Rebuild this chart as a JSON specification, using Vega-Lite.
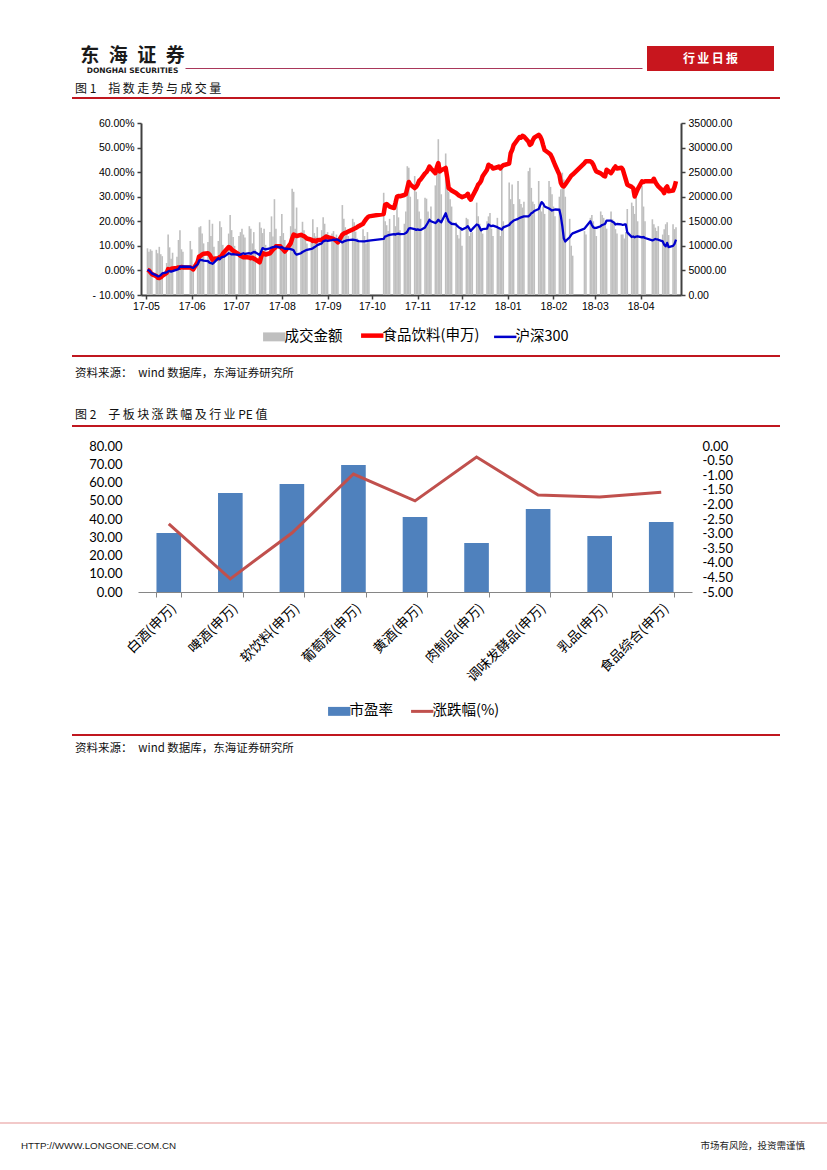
{
"$schema":"https://vega.github.io/schema/vega-lite/v6.json",
"padding":0,
"background":"#ffffff",
"spacing":0,
"resolve":{"scale":{"color":"independent"},"legend":{"color":"independent"}},
"config":{"concat":{"spacing":0},"view":{"stroke":null},"title":{"fontWeight":"normal","color":"#111111","font":"Noto Sans CJK SC"}},
"datasets":{
"one":[{}],
"sub":[{"c":"白酒(申万)","pe":32.3,"chg":-2.67},{"c":"啤酒(申万)","pe":54.2,"chg":-4.55},{"c":"软饮料(申万)","pe":59.2,"chg":-2.98},{"c":"葡萄酒(申万)","pe":69.6,"chg":-0.96},{"c":"黄酒(申万)","pe":41.1,"chg":-1.88},{"c":"肉制品(申万)","pe":26.8,"chg":-0.38},{"c":"调味发酵品(申万)","pe":45.5,"chg":-1.68},{"c":"乳品(申万)","pe":30.7,"chg":-1.75},{"c":"食品综合(申万)","pe":38.4,"chg":-1.58}],
"idx":[
{"d":"2017-05-02","v":9500,"f":0.3,"h":0.3},{"d":"2017-05-03","v":8800,"f":0,"h":0},{"d":"2017-05-04","v":9300,"f":-0.8,"h":-0.5},{"d":"2017-05-05","v":9000,"f":-1.5,"h":-1.2},
{"d":"2017-05-08","v":9200,"f":-2.3,"h":-2},{"d":"2017-05-09","v":8500,"f":-3,"h":-2.4},{"d":"2017-05-10","v":9800,"f":-3.1,"h":-2.3},{"d":"2017-05-11","v":8300,"f":-2.8,"h":-1.9},{"d":"2017-05-12","v":7900,"f":-2.2,"h":-1.2},
{"d":"2017-05-15","v":6500,"f":-1,"h":-0.8},{"d":"2017-05-16","v":12300,"f":0.5,"h":-0.4},{"d":"2017-05-17","v":9700,"f":0.2,"h":-0.2},{"d":"2017-05-18","v":7400,"f":0.6,"h":-0.5},{"d":"2017-05-19","v":8600,"f":0.8,"h":-0.3},
{"d":"2017-05-22","v":7800,"f":1,"h":0.3},{"d":"2017-05-23","v":11200,"f":1.2,"h":0.5},{"d":"2017-05-24","v":13200,"f":1.1,"h":1.6},{"d":"2017-05-25","v":9300,"f":1.4,"h":1.5},{"d":"2017-05-26","v":8800,"f":1.2,"h":1.6},
{"d":"2017-05-31","v":11000,"f":1.2,"h":1.5},{"d":"2017-06-01","v":9300,"f":0.8,"h":1.2},{"d":"2017-06-02","v":6200,"f":0.4,"h":1},
{"d":"2017-06-05","v":8000,"f":3.5,"h":2.5},{"d":"2017-06-06","v":13800,"f":5.7,"h":4},{"d":"2017-06-07","v":14000,"f":6,"h":4.3},{"d":"2017-06-08","v":12500,"f":6.5,"h":4.2},{"d":"2017-06-09","v":10500,"f":6.8,"h":4},
{"d":"2017-06-12","v":10800,"f":7,"h":3.8},{"d":"2017-06-13","v":15300,"f":6.5,"h":3.2},{"d":"2017-06-14","v":12000,"f":5.5,"h":3},{"d":"2017-06-15","v":14500,"f":4.3,"h":2.7},{"d":"2017-06-16","v":9800,"f":4.8,"h":3.2},
{"d":"2017-06-19","v":11000,"f":5,"h":5},{"d":"2017-06-20","v":15000,"f":5.5,"h":4.5},{"d":"2017-06-21","v":13800,"f":5.7,"h":5.3},{"d":"2017-06-22","v":10200,"f":6.8,"h":5.5},{"d":"2017-06-23","v":8500,"f":7.5,"h":5.6},
{"d":"2017-06-26","v":12500,"f":9.5,"h":7},{"d":"2017-06-27","v":16300,"f":9.2,"h":6.8},{"d":"2017-06-28","v":13200,"f":8.5,"h":6.5},{"d":"2017-06-29","v":11800,"f":8,"h":6.6},{"d":"2017-06-30","v":10000,"f":7.7,"h":6.5},
{"d":"2017-07-03","v":12000,"f":6.5,"h":6.3},{"d":"2017-07-04","v":12800,"f":6,"h":6.4},{"d":"2017-07-05","v":13500,"f":5.7,"h":6.8},{"d":"2017-07-06","v":12300,"f":5.4,"h":7},{"d":"2017-07-07","v":11700,"f":5.5,"h":6.7},
{"d":"2017-07-10","v":14000,"f":5.3,"h":7},{"d":"2017-07-11","v":13500,"f":5,"h":6.8},{"d":"2017-07-12","v":10500,"f":5.2,"h":7.2},{"d":"2017-07-13","v":12800,"f":4.8,"h":7.5},{"d":"2017-07-14","v":9300,"f":4.5,"h":7.4},
{"d":"2017-07-17","v":14800,"f":3.3,"h":6.3},{"d":"2017-07-18","v":13700,"f":5.5,"h":7.7},{"d":"2017-07-19","v":12600,"f":7,"h":9.1},{"d":"2017-07-20","v":13500,"f":6.8,"h":8.8},{"d":"2017-07-21","v":10200,"f":6.5,"h":8.6},
{"d":"2017-07-24","v":12800,"f":7,"h":9},{"d":"2017-07-25","v":16000,"f":7.7,"h":9.3},{"d":"2017-07-26","v":11900,"f":8.5,"h":9.5},{"d":"2017-07-27","v":19500,"f":9,"h":9.6},{"d":"2017-07-28","v":13500,"f":9.8,"h":9.8},
{"d":"2017-07-31","v":12000,"f":9.8,"h":9.3},{"d":"2017-08-01","v":16500,"f":9,"h":9.5},{"d":"2017-08-02","v":12600,"f":8.5,"h":9.1},{"d":"2017-08-03","v":11200,"f":7.7,"h":8.8},{"d":"2017-08-04","v":9800,"f":8.5,"h":8.9},
{"d":"2017-08-07","v":14000,"f":11,"h":8.7},{"d":"2017-08-08","v":21600,"f":13,"h":8.5},{"d":"2017-08-09","v":21000,"f":14.6,"h":8.2},{"d":"2017-08-10","v":13500,"f":14.3,"h":7},{"d":"2017-08-11","v":17800,"f":14,"h":6.4},
{"d":"2017-08-14","v":12300,"f":14.5,"h":7},{"d":"2017-08-15","v":14900,"f":14.2,"h":7.5},{"d":"2017-08-16","v":13200,"f":14,"h":7.8},{"d":"2017-08-17","v":11800,"f":13.5,"h":8.1},{"d":"2017-08-18","v":10500,"f":13,"h":8.4},
{"d":"2017-08-21","v":11500,"f":12.5,"h":8.8},{"d":"2017-08-22","v":15400,"f":12,"h":9},{"d":"2017-08-23","v":12600,"f":12.2,"h":9.4},{"d":"2017-08-24","v":11900,"f":11.8,"h":9.8},{"d":"2017-08-25","v":13800,"f":12.3,"h":10.3},
{"d":"2017-08-28","v":13200,"f":12.5,"h":11},{"d":"2017-08-29","v":15800,"f":13,"h":11.8},{"d":"2017-08-30","v":14500,"f":13.3,"h":12},{"d":"2017-08-31","v":12400,"f":13.8,"h":12.2},{"d":"2017-09-01","v":12800,"f":13.5,"h":12},
{"d":"2017-09-04","v":12500,"f":13,"h":12.3},{"d":"2017-09-05","v":13000,"f":12.8,"h":12.5},{"d":"2017-09-06","v":11500,"f":12.5,"h":12.4},{"d":"2017-09-07","v":12300,"f":12,"h":12.6},{"d":"2017-09-08","v":10800,"f":11.4,"h":12.5},
{"d":"2017-09-11","v":18300,"f":14.6,"h":11.4},{"d":"2017-09-12","v":15500,"f":15,"h":11.8},{"d":"2017-09-13","v":13800,"f":15.3,"h":12},{"d":"2017-09-14","v":13200,"f":15.5,"h":12.2},{"d":"2017-09-15","v":12000,"f":15.8,"h":12.3},
{"d":"2017-09-18","v":15500,"f":16.7,"h":12.5},{"d":"2017-09-19","v":14800,"f":17,"h":12.4},{"d":"2017-09-20","v":12900,"f":17.3,"h":12.3},{"d":"2017-09-21","v":11500,"f":17.6,"h":12.1},{"d":"2017-09-22","v":10800,"f":18,"h":11.9},
{"d":"2017-09-25","v":13400,"f":19,"h":11.8},{"d":"2017-09-26","v":12000,"f":20,"h":11.8},{"d":"2017-09-27","v":10500,"f":20.8,"h":11.9},{"d":"2017-09-28","v":12800,"f":21.5,"h":12},{"d":"2017-09-29","v":11000,"f":22,"h":12.1},
{"d":"2017-10-09","v":20800,"f":23,"h":12.8},{"d":"2017-10-10","v":15000,"f":26.8,"h":13.9},{"d":"2017-10-11","v":14200,"f":27,"h":14},{"d":"2017-10-12","v":13000,"f":26.5,"h":14.3},{"d":"2017-10-13","v":15500,"f":26,"h":14.5},
{"d":"2017-10-16","v":16300,"f":25.4,"h":14.8},{"d":"2017-10-17","v":14000,"f":27.5,"h":14.6},{"d":"2017-10-18","v":20500,"f":30,"h":14.9},{"d":"2017-10-19","v":15800,"f":30.3,"h":15},{"d":"2017-10-20","v":13200,"f":30.2,"h":14.8},
{"d":"2017-10-23","v":14500,"f":30.7,"h":14.9},{"d":"2017-10-24","v":17000,"f":31,"h":15.2},{"d":"2017-10-25","v":26200,"f":33.5,"h":15.8},{"d":"2017-10-26","v":25900,"f":36,"h":17},{"d":"2017-10-27","v":20000,"f":35,"h":17.2},
{"d":"2017-10-30","v":24200,"f":33.5,"h":16.8},{"d":"2017-10-31","v":21000,"f":34,"h":16.5},{"d":"2017-11-01","v":19500,"f":35,"h":16.7},{"d":"2017-11-02","v":17000,"f":36.5,"h":16.5},{"d":"2017-11-03","v":15500,"f":37,"h":16.5},
{"d":"2017-11-06","v":19800,"f":39.5,"h":17.5},{"d":"2017-11-07","v":19600,"f":40,"h":18.5},{"d":"2017-11-08","v":17000,"f":41,"h":19.5},{"d":"2017-11-09","v":15500,"f":42.3,"h":20.6},{"d":"2017-11-10","v":18000,"f":41.5,"h":20},
{"d":"2017-11-13","v":22300,"f":39.6,"h":19.3},{"d":"2017-11-14","v":25300,"f":42,"h":19.8},{"d":"2017-11-15","v":31700,"f":43.7,"h":20.6},{"d":"2017-11-16","v":27000,"f":40.3,"h":20},{"d":"2017-11-17","v":20500,"f":40.8,"h":19.6},
{"d":"2017-11-20","v":28800,"f":41.7,"h":23.3},{"d":"2017-11-21","v":23000,"f":38,"h":21.5},{"d":"2017-11-22","v":21000,"f":33.5,"h":20},{"d":"2017-11-23","v":19500,"f":33,"h":19.5},{"d":"2017-11-24","v":18000,"f":32.5,"h":19},
{"d":"2017-11-27","v":14800,"f":31.5,"h":18.7},{"d":"2017-11-28","v":12200,"f":31,"h":18},{"d":"2017-11-29","v":11500,"f":30.5,"h":17.5},{"d":"2017-11-30","v":13500,"f":30.2,"h":17.2},{"d":"2017-12-01","v":10000,"f":29.8,"h":16.6},
{"d":"2017-12-04","v":15700,"f":30.5,"h":17.5},{"d":"2017-12-05","v":15400,"f":31.2,"h":18},{"d":"2017-12-06","v":12000,"f":29.5,"h":17},{"d":"2017-12-07","v":12600,"f":28.8,"h":16},{"d":"2017-12-08","v":12800,"f":30,"h":16.8},
{"d":"2017-12-11","v":18800,"f":33.5,"h":18.7},{"d":"2017-12-12","v":16000,"f":34.9,"h":18.5},{"d":"2017-12-13","v":14500,"f":35.5,"h":17.5},{"d":"2017-12-14","v":13500,"f":36.5,"h":16.3},{"d":"2017-12-15","v":12500,"f":38.3,"h":16.8},
{"d":"2017-12-18","v":15000,"f":41,"h":17},{"d":"2017-12-19","v":16000,"f":43,"h":18.7},{"d":"2017-12-20","v":16700,"f":42.5,"h":18.3},{"d":"2017-12-21","v":13500,"f":42.3,"h":18},{"d":"2017-12-22","v":12000,"f":41.5,"h":18.2},
{"d":"2017-12-25","v":15700,"f":42,"h":17.6},{"d":"2017-12-26","v":13500,"f":42.3,"h":17.2},{"d":"2017-12-27","v":12000,"f":41.5,"h":17},{"d":"2017-12-28","v":25900,"f":42.3,"h":16.6},{"d":"2017-12-29","v":15000,"f":42.8,"h":17.5},
{"d":"2018-01-02","v":22900,"f":43.5,"h":18.5},{"d":"2018-01-03","v":19500,"f":47.7,"h":19.3},{"d":"2018-01-04","v":22500,"f":49,"h":19.8},{"d":"2018-01-05","v":18500,"f":51,"h":20.3},
{"d":"2018-01-08","v":23200,"f":53.5,"h":21},{"d":"2018-01-09","v":19500,"f":54.3,"h":21.3},{"d":"2018-01-10","v":18500,"f":54,"h":21.6},{"d":"2018-01-11","v":17800,"f":54.8,"h":21.8},{"d":"2018-01-12","v":19000,"f":54.5,"h":22},
{"d":"2018-01-15","v":25200,"f":52.5,"h":22},{"d":"2018-01-16","v":25900,"f":51.1,"h":22.5},{"d":"2018-01-17","v":21800,"f":51.5,"h":23.3},{"d":"2018-01-18","v":19000,"f":53,"h":23.6},{"d":"2018-01-19","v":18500,"f":54,"h":24.2},
{"d":"2018-01-22","v":23200,"f":55.2,"h":25},{"d":"2018-01-23","v":19000,"f":54.5,"h":26.5},{"d":"2018-01-24","v":17000,"f":53.2,"h":27.8},{"d":"2018-01-25","v":18000,"f":51,"h":27.2},{"d":"2018-01-26","v":16500,"f":49,"h":26},
{"d":"2018-01-29","v":23200,"f":47.7,"h":25.2},{"d":"2018-01-30","v":22000,"f":47.2,"h":24.8},{"d":"2018-01-31","v":20500,"f":46,"h":24.4},{"d":"2018-02-01","v":18000,"f":44.5,"h":24.6},{"d":"2018-02-02","v":16000,"f":43,"h":24.8},
{"d":"2018-02-05","v":20000,"f":39,"h":24.7},{"d":"2018-02-06","v":21500,"f":35.6,"h":22},{"d":"2018-02-07","v":24900,"f":34.5,"h":18},{"d":"2018-02-08","v":23500,"f":34.2,"h":13},{"d":"2018-02-09","v":20000,"f":35,"h":11.8},
{"d":"2018-02-12","v":15500,"f":37.6,"h":13.5},{"d":"2018-02-13","v":10000,"f":38.5,"h":14.5},{"d":"2018-02-14","v":8000,"f":39,"h":15.1},
{"d":"2018-02-22","v":13000,"f":43.7,"h":17},{"d":"2018-02-23","v":12300,"f":44.4,"h":17.8},
{"d":"2018-02-26","v":15700,"f":44.4,"h":20},{"d":"2018-02-27","v":16300,"f":44,"h":18.5},{"d":"2018-02-28","v":15000,"f":43,"h":17.5},{"d":"2018-03-01","v":13700,"f":41.5,"h":17.3},{"d":"2018-03-02","v":12000,"f":40.3,"h":17.3},
{"d":"2018-03-05","v":17000,"f":39.5,"h":18},{"d":"2018-03-06","v":16300,"f":39,"h":18.5},{"d":"2018-03-07","v":15700,"f":38.5,"h":18.7},{"d":"2018-03-08","v":14500,"f":38.3,"h":19},{"d":"2018-03-09","v":13500,"f":41,"h":20.3},
{"d":"2018-03-12","v":17000,"f":39.6,"h":20.3},{"d":"2018-03-13","v":15400,"f":40.5,"h":19.8},{"d":"2018-03-14","v":14800,"f":41.5,"h":19.5},{"d":"2018-03-15","v":13400,"f":42.3,"h":18.7},{"d":"2018-03-16","v":12500,"f":41.5,"h":18.9},
{"d":"2018-03-19","v":12300,"f":41.8,"h":18.7},{"d":"2018-03-20","v":12300,"f":41,"h":18.5},{"d":"2018-03-21","v":11500,"f":39,"h":18.7},{"d":"2018-03-22","v":12800,"f":37,"h":18.7},{"d":"2018-03-23","v":17500,"f":34.9,"h":15.5},
{"d":"2018-03-26","v":18800,"f":34,"h":13.6},{"d":"2018-03-27","v":18100,"f":33.5,"h":13.8},{"d":"2018-03-28","v":16500,"f":30.1,"h":13.5},{"d":"2018-03-29","v":20500,"f":31.5,"h":13.8},{"d":"2018-03-30","v":15000,"f":33,"h":13.9},
{"d":"2018-04-02","v":22200,"f":36.3,"h":13.5},{"d":"2018-04-03","v":18000,"f":36,"h":13.6},{"d":"2018-04-04","v":15000,"f":36.3,"h":13.2},
{"d":"2018-04-09","v":15400,"f":36.3,"h":12.2},{"d":"2018-04-10","v":14400,"f":37.3,"h":12.5},{"d":"2018-04-11","v":13700,"f":36,"h":12.8},{"d":"2018-04-12","v":13000,"f":35,"h":12.6},{"d":"2018-04-13","v":14000,"f":34.2,"h":12.5},
{"d":"2018-04-16","v":12300,"f":32.5,"h":11.8},{"d":"2018-04-17","v":13400,"f":31.5,"h":10.5},{"d":"2018-04-18","v":14400,"f":33.5,"h":9.8},{"d":"2018-04-19","v":14800,"f":34.2,"h":11.2},{"d":"2018-04-20","v":12200,"f":32.2,"h":9.5},
{"d":"2018-04-23","v":14400,"f":32.5,"h":10},{"d":"2018-04-24","v":13400,"f":34,"h":10.8},{"d":"2018-04-25","v":13800,"f":36.3,"h":12.5}
]},
"vconcat":[
{"data":{"name":"one"},"mark":{"type":"point","opacity":0,"size":0},"width":827,"height":46,"view":{"fill":"transparent","stroke":null}},
{"spacing":0,"hconcat":[
 {"data":{"name":"one"},"mark":{"type":"point","opacity":0,"size":0},"width":80,"height":1,"view":{"fill":"transparent","stroke":null}},
 {"spacing":0,"vconcat":[
  {"data":{"name":"one"},"mark":{"type":"text","font":"Noto Sans CJK SC","fontSize":19,"fontWeight":"bold","color":"#1a1a1a"},"width":103,"height":20,"view":{"fill":"transparent","stroke":null},
   "encoding":{"text":{"value":"东\u2002海\u2002证\u2002券"}}},
  {"data":{"name":"one"},"mark":{"type":"text","font":"DejaVu Sans","fontSize":7.5,"fontWeight":"bold","color":"#1a1a1a"},"width":103,"height":7,"view":{"fill":"transparent","stroke":null},
   "encoding":{"text":{"value":"DONGHAI SECURITIES"}}}
 ]},
 {"data":{"name":"one"},"mark":{"type":"point","opacity":0,"size":0},"width":457,"height":22,"view":{"fill":"transparent","stroke":null},
  "encoding":{"x":{"datum":0,"type":"quantitative","axis":{"labels":false,"ticks":false,"title":null,"grid":false,"domainColor":"#A9375A","domainWidth":1}}}},
 {"data":{"name":"one"},"mark":{"type":"point","opacity":0,"size":0},"width":5,"height":1,"view":{"fill":"transparent","stroke":null}},
 {"data":{"name":"one"},"mark":{"type":"text","color":"#ffffff","font":"Noto Sans CJK SC","fontSize":12,"fontWeight":"bold"},"width":127,"height":25,"view":{"fill":"#C8161E","stroke":null},
  "encoding":{"text":{"value":"行\u2009业\u2009日\u2009报"}}}
]},
{"data":{"name":"one"},"mark":{"type":"point","opacity":0,"size":0},"width":1,"height":9,"view":{"fill":"transparent","stroke":null}},
{"spacing":0,"hconcat":[
 {"data":{"name":"one"},"mark":{"type":"point","opacity":0,"size":0},"width":72,"height":1,"view":{"fill":"transparent","stroke":null}},
 {"data":{"name":"one"},"mark":{"type":"point","opacity":0,"size":0},"width":708,"height":2,"view":{"fill":"#C0171F","stroke":null},
  "title":{"text":"图 1\u3000指\u2009数\u2009走\u2009势\u2009与\u2009成\u2009交\u2009量","anchor":"start","fontSize":12,"offset":1,"dx":3}}
]},
{"data":{"name":"one"},"mark":{"type":"point","opacity":0,"size":0},"width":1,"height":19,"view":{"fill":"transparent","stroke":null}},
{"spacing":0,"resolve":{"scale":{"color":"independent"},"legend":{"color":"independent"}},"hconcat":[
 {"data":{"name":"one"},"mark":{"type":"point","opacity":0,"size":0},"width":91,"height":1,"view":{"fill":"transparent","stroke":null}},
 {"width":540,"height":172,"data":{"name":"idx"},
  "layer":[
   {"mark":{"type":"bar","width":1.6},
    "encoding":{
     "x":{"field":"d","type":"temporal","scale":{"type":"utc","domain":[{"year":2017,"month":5,"date":1,"utc":true},{"year":2018,"month":4,"date":25,"utc":true}]},
      "axis":{"title":null,"grid":false,"format":"%y-%m","labelOverlap":false,"labelFlush":false,"labelFont":"Liberation Sans","labelFontSize":10.5,"labelColor":"#000000","labelPadding":2,"domainColor":"#404040","domainWidth":2,"tickColor":"#404040","tickWidth":1.5,"tickSize":4,
       "values":[{"year":2017,"month":5,"date":1,"utc":true},{"year":2017,"month":6,"date":1,"utc":true},{"year":2017,"month":7,"date":1,"utc":true},{"year":2017,"month":8,"date":1,"utc":true},{"year":2017,"month":9,"date":1,"utc":true},{"year":2017,"month":10,"date":1,"utc":true},{"year":2017,"month":11,"date":1,"utc":true},{"year":2017,"month":12,"date":1,"utc":true},{"year":2018,"month":1,"date":1,"utc":true},{"year":2018,"month":2,"date":1,"utc":true},{"year":2018,"month":3,"date":1,"utc":true},{"year":2018,"month":4,"date":1,"utc":true}]}},
     "y":{"field":"v","type":"quantitative","scale":{"domain":[0,35000],"nice":false},
      "axis":{"orient":"right","title":null,"grid":false,"values":[0,5000,10000,15000,20000,25000,30000,35000],"format":".2f","labelFont":"Liberation Sans","labelFontSize":10.5,"labelColor":"#000000","labelPadding":3,"domainColor":"#404040","domainWidth":2,"tickColor":"#404040","tickWidth":1.5,"tickSize":4}},
     "color":{"datum":"成交金额","type":"nominal","scale":{"domain":["成交金额","食品饮料(申万)","沪深300"],"range":["#BFBFBF","#FF0000","#0000CC"]},
      "legend":{"orient":"none","legendX":126,"legendY":205,"direction":"horizontal","title":null,"labelFont":"Noto Sans CJK SC","labelFontSize":14.5,"labelColor":"#000000","labelOffset":3,"columnPadding":9,"symbolSize":500,
       "symbolType":{"expr":"datum.value === '成交金额' ? 'M-1,-0.4H1V0.4H-1Z' : 'stroke'"},
       "symbolStrokeWidth":{"expr":"datum.value === '成交金额' ? 0 : (datum.value === '沪深300' ? 2.5 : 4.5)"},
       "symbolStrokeColor":{"expr":"datum.value === '食品饮料(申万)' ? '#FF0000' : (datum.value === '沪深300' ? '#0000CC' : '#BFBFBF')"},
       "symbolFillColor":"#BFBFBF","symbolOpacity":1}}
    }},
   {"layer":[
     {"mark":{"type":"line","strokeWidth":4.5,"strokeJoin":"round"},
      "encoding":{"x":{"field":"d","type":"temporal"},
       "y":{"field":"f","type":"quantitative","scale":{"domain":[-10,60],"nice":false,"zero":false},
        "axis":{"orient":"left","title":null,"grid":false,"values":[-10,0,10,20,30,40,50,60],"labelExpr":"(datum.value < 0 ? '- ' : '') + format(abs(datum.value), '.2f') + '%'","labelFont":"Liberation Sans","labelFontSize":10.5,"labelColor":"#000000","labelPadding":3,"domainColor":"#404040","domainWidth":2,"tickColor":"#404040","tickWidth":1.5,"tickSize":4}},
       "color":{"datum":"食品饮料(申万)","type":"nominal","legend":null}}},
     {"mark":{"type":"line","strokeWidth":2.3,"strokeJoin":"round"},
      "encoding":{"x":{"field":"d","type":"temporal"},
       "y":{"field":"h","type":"quantitative",
        "axis":{"orient":"left","title":null,"grid":false,"values":[-10,0,10,20,30,40,50,60],"labelExpr":"(datum.value < 0 ? '- ' : '') + format(abs(datum.value), '.2f') + '%'","labelFont":"Liberation Sans","labelFontSize":10.5,"labelColor":"#000000","labelPadding":3,"domainColor":"#404040","domainWidth":2,"tickColor":"#404040","tickWidth":1.5,"tickSize":4}},
       "color":{"datum":"沪深300","type":"nominal","legend":null}}}
   ]}
  ],
  "resolve":{"scale":{"y":"independent"}}}
]},
{"data":{"name":"one"},"mark":{"type":"point","opacity":0,"size":0},"width":1,"height":10,"view":{"fill":"transparent","stroke":null}},
{"spacing":0,"hconcat":[
 {"data":{"name":"one"},"mark":{"type":"point","opacity":0,"size":0},"width":72,"height":1,"view":{"fill":"transparent","stroke":null}},
 {"data":{"name":"one"},"mark":{"type":"point","opacity":0,"size":0},"width":708,"height":2,"view":{"fill":"#C0171F","stroke":null},
  "title":{"text":"资料来源：\u3000wind 数据库，东海证券研究所","orient":"bottom","anchor":"start","fontSize":11.5,"offset":11,"dx":3}}
]},
{"data":{"name":"one"},"mark":{"type":"point","opacity":0,"size":0},"width":1,"height":29,"view":{"fill":"transparent","stroke":null}},
{"spacing":0,"hconcat":[
 {"data":{"name":"one"},"mark":{"type":"point","opacity":0,"size":0},"width":72,"height":1,"view":{"fill":"transparent","stroke":null}},
 {"data":{"name":"one"},"mark":{"type":"point","opacity":0,"size":0},"width":708,"height":2,"view":{"fill":"#C0171F","stroke":null},
  "title":{"text":"图 2\u3000子\u2009板\u2009块\u2009涨\u2009跌\u2009幅\u2009及\u2009行\u2009业 PE 值","anchor":"start","fontSize":12,"offset":3,"dx":3}}
]},
{"data":{"name":"one"},"mark":{"type":"point","opacity":0,"size":0},"width":1,"height":13,"view":{"fill":"transparent","stroke":null}},
{"spacing":0,"resolve":{"scale":{"color":"independent"},"legend":{"color":"independent"}},"hconcat":[
 {"data":{"name":"one"},"mark":{"type":"point","opacity":0,"size":0},"width":88,"height":1,"view":{"fill":"transparent","stroke":null}},
 {"width":554,"height":146,"data":{"name":"sub"},
  "layer":[
   {"mark":{"type":"bar"},
    "encoding":{
     "x":{"field":"c","type":"nominal","sort":null,"scale":{"paddingInner":0.6,"paddingOuter":0.3},
      "axis":{"title":null,"labelAngle":-45,"tickBand":"extent","labelFont":"Noto Sans CJK SC","labelFontSize":13.5,"labelColor":"#000000","labelPadding":4,"domainColor":"#868686","tickColor":"#868686","tickSize":5,"grid":false}},
     "y":{"field":"pe","type":"quantitative","scale":{"domain":[0,80],"nice":false},
      "axis":{"orient":"left","title":null,"grid":false,"domain":false,"ticks":false,"values":[0,10,20,30,40,50,60,70,80],"format":".2f","labelFont":"Lato","labelFontSize":13,"labelColor":"#000000","labelPadding":16}},
     "color":{"datum":"市盈率","type":"nominal","scale":{"domain":["市盈率","涨跌幅(%)"],"range":["#4F81BD","#C0504D"]},
      "legend":{"orient":"none","legendX":194,"legendY":258,"direction":"horizontal","title":null,"labelFont":"Noto Sans CJK SC","labelFontSize":14.5,"labelColor":"#000000","labelOffset":3,"columnPadding":12,"symbolSize":500,
       "symbolType":{"expr":"datum.value === '市盈率' ? 'M-1,-0.4H1V0.4H-1Z' : 'stroke'"},
       "symbolStrokeWidth":{"expr":"datum.value === '市盈率' ? 0 : 3"},
       "symbolStrokeColor":{"expr":"datum.value === '市盈率' ? '#4F81BD' : '#C0504D'"},
       "symbolFillColor":"#4F81BD","symbolOpacity":1}}
    }},
   {"mark":{"type":"line","strokeWidth":3},
    "encoding":{"x":{"field":"c","type":"nominal","sort":null},
     "y":{"field":"chg","type":"quantitative","scale":{"domain":[-5,0],"nice":false,"zero":false},
      "axis":{"orient":"right","title":null,"grid":false,"domain":false,"ticks":false,"values":[-5,-4.5,-4,-3.5,-3,-2.5,-2,-1.5,-1,-0.5,0],"labelExpr":"(datum.value < 0 ? '-' : '') + format(abs(datum.value), '.2f')","labelFont":"Lato","labelFontSize":13,"labelColor":"#000000","labelPadding":10}},
     "color":{"datum":"涨跌幅(%)","type":"nominal","legend":null}}}
  ],
  "resolve":{"scale":{"y":"independent"}}}
]},
{"data":{"name":"one"},"mark":{"type":"point","opacity":0,"size":0},"width":1,"height":16,"view":{"fill":"transparent","stroke":null}},
{"spacing":0,"hconcat":[
 {"data":{"name":"one"},"mark":{"type":"point","opacity":0,"size":0},"width":72,"height":1,"view":{"fill":"transparent","stroke":null}},
 {"data":{"name":"one"},"mark":{"type":"point","opacity":0,"size":0},"width":708,"height":2,"view":{"fill":"#C0171F","stroke":null},
  "title":{"text":"资料来源：\u3000wind 数据库，东海证券研究所","orient":"bottom","anchor":"start","fontSize":11.5,"offset":7,"dx":3}}
]},
{"data":{"name":"one"},"mark":{"type":"point","opacity":0,"size":0},"width":1,"height":367,"view":{"fill":"transparent","stroke":null}},
{"spacing":0,"hconcat":[
 {"data":{"name":"one"},"mark":{"type":"point","opacity":0,"size":0},"width":602,"height":2,"view":{"fill":"#F2C9C9","stroke":null},
  "title":{"text":"HTTP://WWW.LONGONE.COM.CN","orient":"bottom","anchor":"start","font":"Liberation Sans","fontSize":9.8,"color":"#222222","offset":17,"dx":21}},
 {"data":{"name":"one"},"mark":{"type":"point","opacity":0,"size":0},"width":225,"height":2,"view":{"fill":"#F2C9C9","stroke":null},
  "title":{"text":"市场有风险，投资需谨慎","orient":"bottom","anchor":"end","fontSize":9.5,"color":"#222222","offset":17,"dx":-22}}
]}
]
}
